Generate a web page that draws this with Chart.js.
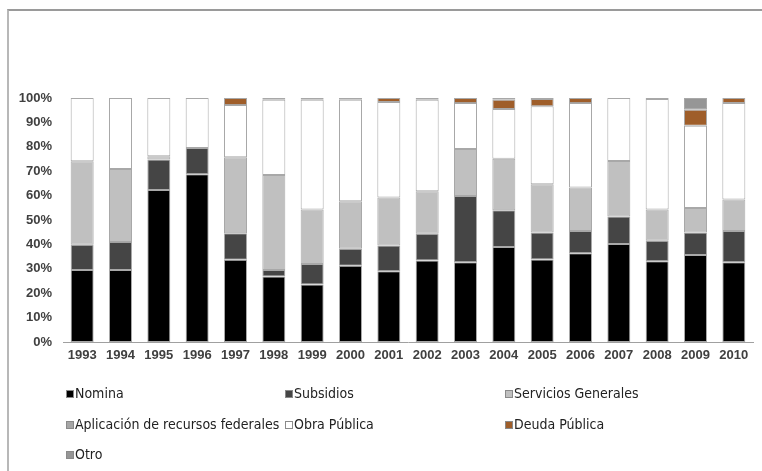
<!DOCTYPE html>
<html>
<head>
<meta charset="utf-8">
<script src="https://cdn.jsdelivr.net/npm/chart.js@4.4.1/dist/chart.umd.min.js"></script>
<style>
  html, body { margin: 0; padding: 0; background: #fff; width: 762px; height: 471px; overflow: hidden; }
  #wrap { position: relative; width: 762px; height: 471px; }
  #frame { position: absolute; left: 7px; top: 9px; right: 0; bottom: 0; border-left: 2px solid #b8b8b8; border-top: 2px solid #9a9a9a; }
  canvas { position: absolute; left: 0; top: 0; }
  #legend { position: absolute; left: 0; top: 0; width: 762px; height: 471px; pointer-events: none;
            font-family: "Liberation Sans Narrow", "DejaVu Sans Condensed", sans-serif; font-size: 14px; color: #222; }
  .item { position: absolute; white-space: nowrap; line-height: 16px; height: 16px; }
  .box { display: inline-block; width: 8px; height: 8px; border: 1px solid #8a8a8a; margin-right: 1px; vertical-align: -0px; box-sizing: border-box; }
</style>
</head>
<body>
<div id="wrap">
  <div id="frame"></div>
  <canvas id="c" width="762" height="471"></canvas>
  <div id="legend"></div>
</div>
<script>
const years = ["1993","1994","1995","1996","1997","1998","1999","2000","2001","2002","2003","2004","2005","2006","2007","2008","2009","2010"];
const yTickLabels = ["0%","10%","20%","30%","40%","50%","60%","70%","80%","90%","100%"];

const seriesNames = ["Nomina","Subsidios","Servicios Generales","Aplicación de recursos federales","Obra Pública","Deuda Pública","Otro"];

const nomina      = [29.5,29.5,62.3,68.8,33.7,26.8,23.6,31.3,29.0,33.4,32.7,38.9,33.8,36.4,40.2,33.1,35.7,32.7];
const subsidios   = [10.4,11.5,12.5,10.7,10.9, 2.7, 8.4, 6.9,10.6,11.0,27.1,15.1,11.1, 9.1,11.2, 8.4, 9.2,12.8];
const servicios   = [34.2,29.9, 1.3, 0.0,31.1,38.9,22.3,19.5,19.6,17.4,19.3,21.1,19.8,17.8,22.8,12.8,10.0,12.9];
const aplicacion  = [ 0, 0, 0, 0, 0, 0, 0, 0, 0, 0, 0, 0, 0, 0, 0, 0, 0, 0];
const obraPublica = [25.9,29.1,23.9,20.5,21.4,30.9,45.0,41.6,39.2,37.5,18.8,20.4,31.9,34.6,25.8,45.3,33.7,39.5];
const deuda       = [ 0.0, 0.0, 0.0, 0.0, 2.9, 0.7, 0.7, 0.7, 1.6, 0.7, 2.1, 3.8, 3.0, 2.1, 0.0, 0.4, 6.6, 2.1];
const otro        = [ 0, 0, 0, 0, 0, 0, 0, 0, 0, 0, 0, 0.7, 0.4, 0, 0, 0, 4.8, 0];

const seriesValues = [nomina, subsidios, servicios, aplicacion, obraPublica, deuda, otro];
const seriesColors = ["#000000","#454545","#c0c0c0","#a6a6a6","#ffffff","#9f5e2a","#969696"];

const datasets = seriesNames.map((name, i) => ({
  label: name,
  data: seriesValues[i],
  backgroundColor: seriesColors[i],
  borderColor: "#a8a8a8",
  borderWidth: 1,
  borderSkipped: false,
  categoryPercentage: 1.0,
  barPercentage: 0.6
}));

const chart = new Chart(document.getElementById("c"), {
  type: "bar",
  data: { labels: years, datasets: datasets },
  options: {
    responsive: false,
    animation: false,
    layout: { padding: { top: 98, left: 0, right: 9, bottom: 99 } },
    plugins: { legend: { display: false }, tooltip: { enabled: false }, title: { display: false } },
    scales: {
      x: {
        stacked: true,
        grid: { display: false, drawTicks: false },
        border: { display: true, color: "#a0a0a0", width: 1 },
        ticks: { color: "#404040", font: { family: "Liberation Sans", size: 13, weight: "bold" }, padding: 6, maxRotation: 0, autoSkip: false },
        afterFit: s => { s.height = 30; }
      },
      y: {
        stacked: true,
        min: 0, max: 100,
        grid: { display: false, drawTicks: false },
        border: { display: false },
        ticks: {
          stepSize: 10,
          color: "#404040",
          font: { family: "Liberation Sans", size: 13, weight: "bold" },
          padding: 11,
          callback: (v) => yTickLabels[Math.round(v / 10)]
        },
        afterFit: s => { s.width = 63; }
      }
    }
  }
});

// HTML legend in 3 columns like the original
const legend = document.getElementById("legend");
const colX = [66, 285, 505];
const rowY = [385, 416, 446];
seriesNames.forEach((name, i) => {
  const d = document.createElement("div");
  d.className = "item";
  d.style.left = colX[i % 3] + "px";
  d.style.top = rowY[Math.floor(i / 3)] + "px";
  const b = document.createElement("span");
  b.className = "box";
  b.style.background = seriesColors[i];
  d.appendChild(b);
  d.appendChild(document.createTextNode(name));
  legend.appendChild(d);
});
</script>
</body>
</html>
